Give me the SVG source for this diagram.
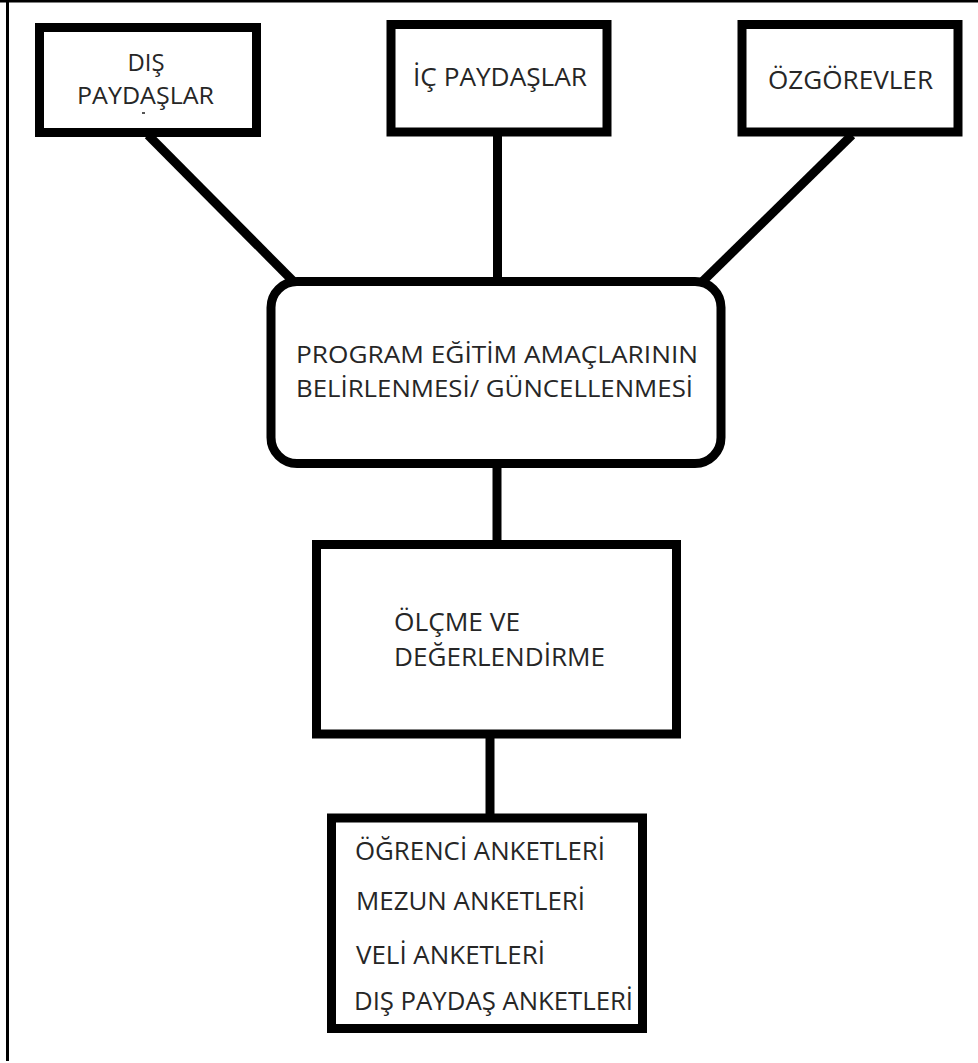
<svg xmlns="http://www.w3.org/2000/svg" width="978" height="1063" viewBox="0 0 978 1063">
<style>
.box{fill:#fff;stroke:#000;stroke-width:9}
.con{stroke:#000;stroke-width:9;fill:none}
.t{font-family:"Open Sans","Noto Sans",sans-serif;font-size:26px;fill:#262626}
.t1{font-family:"Open Sans","Noto Sans",sans-serif;font-size:24px;fill:#262626}
.t2{font-family:"Open Sans","Noto Sans",sans-serif;font-size:23px;fill:#262626}
</style>
<rect width="978" height="1063" fill="#fff"/>
<g id="frame">
<line x1="0" y1="1" x2="978" y2="1" stroke="#000" stroke-width="3"/>
<line x1="7.5" y1="0" x2="7.5" y2="1061" stroke="#000" stroke-width="3"/>
</g>
<g id="connectors">
<line class="con" x1="148" y1="135" x2="293" y2="281"/>
<line class="con" x1="497.5" y1="135" x2="497.5" y2="281" stroke-width="8"/>
<line class="con" x1="852" y1="135" x2="703" y2="281"/>
<line class="con" x1="497" y1="463" x2="497" y2="545"/>
<line class="con" x1="490" y1="734" x2="490" y2="815"/>
</g>
<g id="dis-paydaslar">
<rect class="box" x="39.5" y="27.5" width="217" height="105"/>
<text class="t1" x="146" y="70.5" text-anchor="middle" textLength="37" lengthAdjust="spacingAndGlyphs">DIŞ</text>
<text class="t1" x="77" y="104" textLength="137" lengthAdjust="spacingAndGlyphs">PAYDAŞLAR</text>
<rect x="142" y="112" width="3" height="2" fill="#555"/>
</g>
<g id="ic-paydaslar">
<rect class="box" x="391" y="24.5" width="216" height="107.5"/>
<text class="t" x="413" y="86" textLength="174" lengthAdjust="spacingAndGlyphs">İÇ PAYDAŞLAR</text>
</g>
<g id="ozgorevler">
<rect class="box" x="742" y="24.5" width="216" height="107.5"/>
<text class="t" x="768" y="89" textLength="165" lengthAdjust="spacingAndGlyphs">ÖZGÖREVLER</text>
</g>
<g id="program">
<rect class="box" x="271" y="281.5" width="450" height="182" rx="26" ry="26"/>
<text class="t2" x="296" y="363" textLength="402" lengthAdjust="spacingAndGlyphs">PROGRAM EĞİTİM AMAÇLARININ</text>
<text class="t2" x="296" y="397" textLength="397" lengthAdjust="spacingAndGlyphs">BELİRLENMESİ/ GÜNCELLENMESİ</text>
</g>
<g id="olcme">
<rect class="box" x="316.5" y="544.5" width="360" height="189.5"/>
<text class="t" x="394" y="631" textLength="126" lengthAdjust="spacingAndGlyphs">ÖLÇME VE</text>
<text class="t" x="394" y="666" textLength="211" lengthAdjust="spacingAndGlyphs">DEĞERLENDİRME</text>
</g>
<g id="anketler">
<rect class="box" x="331.5" y="818" width="311" height="210.5"/>
<text class="t" x="355" y="860" textLength="250" lengthAdjust="spacingAndGlyphs">ÖĞRENCİ ANKETLERİ</text>
<text class="t" x="356" y="910" textLength="229" lengthAdjust="spacingAndGlyphs">MEZUN ANKETLERİ</text>
<text class="t" x="356" y="964" textLength="189" lengthAdjust="spacingAndGlyphs">VELİ ANKETLERİ</text>
<text class="t" x="354" y="1010" textLength="279" lengthAdjust="spacingAndGlyphs">DIŞ PAYDAŞ ANKETLERİ</text>
</g>
</svg>
